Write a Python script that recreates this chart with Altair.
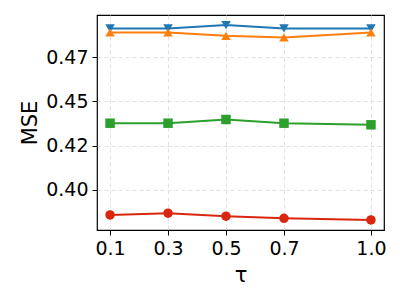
import altair as alt
import pandas as pd

taus = [0.1, 0.3, 0.5, 0.7, 1.0]
series_names = ["blue", "orange", "green", "red"]
blue_vals = [0.4913, 0.4913, 0.4932, 0.4913, 0.4913]
orange_vals = [0.4890, 0.4890, 0.4871, 0.4862, 0.4890]
green_vals = [0.4377, 0.4377, 0.4398, 0.4377, 0.4368]
red_vals = [0.3858, 0.3868, 0.3851, 0.3839, 0.3830]
colors = ["#1f77b4", "#ff7f0e", "#2ca02c", "#d9270f"]
shapes = ["triangle-down", "triangle-up", "square", "circle"]
y_ticks = [0.400, 0.425, 0.450, 0.475]

rows = []
for name, vals in zip(series_names, [blue_vals, orange_vals, green_vals, red_vals]):
    for t, v in zip(taus, vals):
        rows.append({"tau": t, "mse": v, "series": name})
df = pd.DataFrame(rows)

font = "DejaVu Sans"
x = alt.X("tau:Q", scale=alt.Scale(domain=[0.055, 1.045], nice=False, zero=False),
          axis=alt.Axis(values=taus, format=".1f", title="τ", grid=True))
y = alt.Y("mse:Q", scale=alt.Scale(domain=[0.3773, 0.4989], nice=False, zero=False),
          axis=alt.Axis(values=y_ticks, format=".2f", title="MSE", grid=True))
color = alt.Color("series:N", scale=alt.Scale(domain=series_names, range=colors), legend=None)
shape = alt.Shape("series:N", scale=alt.Scale(domain=series_names, range=shapes), legend=None)

lines = alt.Chart(df).mark_line(strokeWidth=2).encode(x=x, y=y, color=color, detail="series:N")
points = alt.Chart(df).mark_point(filled=True, size=90, opacity=1).encode(x=x, y=y, color=color, shape=shape)

chart = alt.layer(lines, points).properties(
    width=287, height=215,
    autosize=alt.AutoSizeParams(type="none"),
    padding={"left": 89, "top": 7, "right": 8, "bottom": 60},
).configure_view(
    stroke="black", strokeWidth=1.2
).configure_axis(
    domain=False,
    ticks=True, tickColor="black", tickSize=5, tickWidth=1,
    labelFont=font, labelFontSize=19, labelColor="black", labelPadding=4,
    titleFont=font, titleFontSize=21, titleFontWeight="normal", titleColor="black",
    gridColor="#d9d9d9", gridDash=[4, 3], gridWidth=0.8,
).configure_axisY(titlePadding=5).configure_axisX(titlePadding=6)

chart.save("out.html", embed_options={"renderer": "svg", "actions": False})
